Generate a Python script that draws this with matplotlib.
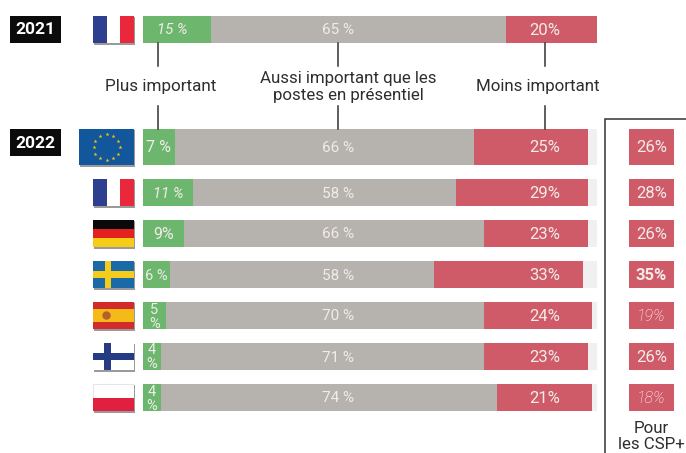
#!/usr/bin/env python

import matplotlib
matplotlib.use("Agg")
import numpy as np
import matplotlib.pyplot as plt
from matplotlib.patches import Rectangle, Circle

plt.rcParams["font.family"] = ["Roboto", "DejaVu Sans"]

# 2021 row first, then the 2022 rows
countries = ["FR21", "EU", "FR", "DE", "SE", "ES", "FI", "PL"]
plus = [15, 7, 11, 9, 6, 5, 4, 4]
aussi = [65, 66, 58, 66, 58, 70, 71, 74]
moins = [20, 25, 29, 23, 33, 24, 23, 21]
plus_labels = ["15 %", "7 %", "11 %", "9%", "6 %", "5\n%", "4\n%", "4\n%"]
aussi_labels = ["65 %", "66 %", "58 %", "66 %", "58 %", "70 %", "71 %", "74 %"]
moins_labels = ["20%", "25%", "29%", "23%", "33%", "24%", "23%", "21%"]
csp = [26, 28, 26, 35, 19, 26, 18]
csp_labels = ["26%", "28%", "26%", "35%", "19%", "26%", "18%"]
csp_bold = ["35%"]
italic_labels = ["15 %", "11 %", "19%", "18%"]

W, H = 686, 453
tops = [16, 129, 179, 220, 261, 302, 343, 384]
heights = [27, 36, 27, 27, 27, 27, 27, 27]

GREEN = "#6cb66d"
GREY = "#b6b2ae"
RED = "#d05b68"
LIGHT = "#f0f0f0"
TXT = "#2e2e2e"
LAB = "#f1ecea"


def rect(ax, x0, y0, x1, y1, c, z=3):
    ax.add_patch(Rectangle((x0, y0), x1 - x0, y1 - y0, facecolor=c, edgecolor="none", zorder=z))


def draw_flag(ax, name, y0, y1):
    x0 = 79 if name == "EU" else 93
    x1 = 134
    rect(ax, x0 + 1, y0 + 1, x1 + 1, y1 + 1.5, "#9a9a9a", 2)
    w = x1 - x0
    h = y1 - y0
    if name in ("FR", "FR21"):
        rect(ax, x0, y0, x0 + w / 3, y1, "#2e3f8f")
        rect(ax, x0 + w / 3, y0, x0 + 2 * w / 3, y1, "white")
        rect(ax, x0 + 2 * w / 3, y0, x1, y1, "#e9293b")
    elif name == "EU":
        rect(ax, x0, y0, x1, y1, "#12569b")
        ang = np.deg2rad(np.arange(0, 360, 30))
        ax.scatter(x0 + w / 2 + 13 * np.cos(ang), (y0 + y1) / 2 + 13 * np.sin(ang),
                   marker="*", s=9, color="#f2c21c", linewidths=0, zorder=4)
    elif name == "DE":
        rect(ax, x0, y0, x1, y0 + h / 3, "#0a0a0a")
        rect(ax, x0, y0 + h / 3, x1, y0 + 2 * h / 3, "#e3211f")
        rect(ax, x0, y0 + 2 * h / 3, x1, y1, "#f5cc16")
    elif name == "SE":
        rect(ax, x0, y0, x1, y1, "#1b6aa8")
        rect(ax, x0, y0 + 0.38 * h, x1, y0 + 0.62 * h, "#f5cb1c", 4)
        rect(ax, x0 + 0.3 * w, y0, x0 + 0.44 * w, y1, "#f5cb1c", 4)
    elif name == "ES":
        rect(ax, x0, y0, x1, y1, "#d12c2b")
        rect(ax, x0, y0 + h / 4, x1, y0 + 3 * h / 4, "#f4bb18", 4)
        ax.add_patch(Circle((x0 + 0.33 * w, (y0 + y1) / 2), 4.2, facecolor="#b5602f", edgecolor="none", zorder=5))
    elif name == "FI":
        rect(ax, x0, y0, x1, y1, "white")
        rect(ax, x0, y0 + 0.37 * h, x1, y0 + 0.63 * h, "#253c85", 4)
        rect(ax, x0 + 0.27 * w, y0, x0 + 0.43 * w, y1, "#253c85", 4)
    elif name == "PL":
        rect(ax, x0, y0, x1, y1, "#e5e5e5")
        rect(ax, x0 + 0.5, y0 + 0.5, x1 - 0.5, (y0 + y1) / 2, "white", 4)
        rect(ax, x0, (y0 + y1) / 2, x1, y1, "#e11f3f", 4)


def main():
    fig = plt.figure(figsize=(W / 100, H / 100), dpi=100)

    # bars in percent, the y axis is in picture pixels
    ax = fig.add_axes([143 / W, 0, 454 / W, 1])
    ax.set_xlim(0, 100)
    ax.set_ylim(H, 0)
    ax.axis("off")

    # overlay in pixels for flags, notes and labels
    ov = fig.add_axes([0, 0, 1, 1], zorder=3)
    ov.set_xlim(0, W)
    ov.set_ylim(H, 0)
    ov.axis("off")
    ov.patch.set_alpha(0)

    y = np.array(tops) + np.array(heights) / 2
    p = np.array(plus)
    a = np.array(aussi)
    m = np.array(moins)
    ax.barh(y, 100, height=heights, color=LIGHT, zorder=1)
    ax.barh(y, p, height=heights, color=GREEN, zorder=2)
    ax.barh(y, a, left=p, height=heights, color=GREY, zorder=2)
    ax.barh(y, m, left=p + a, height=heights, color=RED, zorder=2)

    for i, name in enumerate(countries):
        draw_flag(ov, name, tops[i], tops[i] + heights[i])
        xc = 172 if i == 0 else 143 + p[i] * 4.54 / 2
        lab = plus_labels[i]
        if "\n" in lab or lab == "6 %":
            fs = 10.5
        elif lab in italic_labels:
            fs = 10.8
        else:
            fs = 11.5
        ov.text(xc, y[i] + 1, lab, color=LAB, ha="center", va="center", fontsize=fs, linespacing=1.0,
                style="italic" if lab in italic_labels else "normal")
        ov.text(338, y[i] + 1, aussi_labels[i], color=LAB, ha="center", va="center", fontsize=11)
        ov.text(545, y[i] + 1, moins_labels[i], color=LAB, ha="center", va="center", fontsize=12)

    # CSP+ column
    ax2 = fig.add_axes([629 / W, 0, 45 / W, 1])
    ax2.set_xlim(0, 1)
    ax2.set_ylim(H, 0)
    ax2.axis("off")
    ax2.barh(y[1:], [1] * len(csp), height=heights[1:], color=RED)
    for i, lab in enumerate(csp_labels):
        ital = lab in italic_labels
        ov.text(651.5, y[i + 1] + 1, lab, color="white" if ital else LAB, ha="center", va="center",
                fontsize=11.5 if ital else 12,
                fontweight="bold" if lab in csp_bold else ("light" if ital else "normal"),
                style="italic" if ital else "normal")

    ov.plot([686, 605, 605], [119, 119, 453], color="#333333", lw=1.1, zorder=3, solid_joinstyle="miter")
    ov.text(651, 436.5, "Pour\nles CSP+", color=TXT, ha="center", va="center", fontsize=12.2, linespacing=1.1)

    # leader lines and legend words
    for x in [158, 338, 545]:
        ov.plot([x, x], [43, 66], color="#333333", lw=1.1, zorder=5)
        ov.plot([x, x], [106, 129], color="#333333", lw=1.1, zorder=5)
    ov.text(161, 87, "Plus important", color=TXT, ha="center", va="center", fontsize=12.3)
    ov.text(348.5, 87, "Aussi important que les\npostes en présentiel", color=TXT, ha="center", va="center",
            fontsize=12.2, linespacing=1.2)
    ov.text(537.5, 87, "Moins important", color=TXT, ha="center", va="center", fontsize=12.2)

    # year tags
    for t, lab in zip([16, 129], ["2021", "2022"]):
        rect(ov, 10, t, 61, t + 27, "#0b0b0b")
        ov.text(35.5, t + 14, lab, color="white", ha="center", va="center", fontsize=12.5,
                fontweight="bold", zorder=6)

    fig.savefig("out.png", dpi=100)
    plt.close()


if __name__ == "__main__":
    main()
